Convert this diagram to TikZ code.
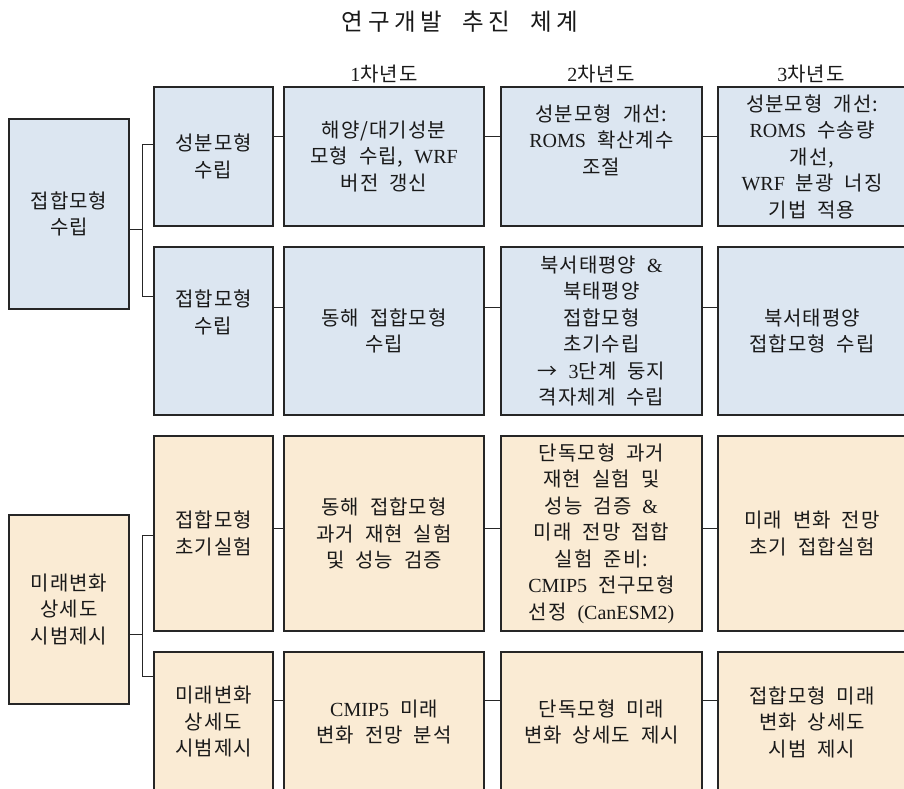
\documentclass[tikz,border=0pt]{standalone}
\usepackage{fontspec}
\newfontfamily\kr[LetterSpace=5,WordSpace=2]{Noto Sans CJK KR}
\newfontfamily\krtitle[LetterSpace=20,WordSpace=2]{Noto Sans CJK KR}
\newfontfamily\latinfont{Liberation Serif}
\newcommand\lt[1]{{\latinfont #1}}
\definecolor{boxblue}{HTML}{DCE6F1}
\definecolor{boxtan}{HTML}{FAEBD4}
\definecolor{edge}{HTML}{262626}
\tikzset{
  cell/.style={draw=edge, line width=1.2pt, inner sep=0pt, align=center,
    font=\kr\fontsize{20}{26.5}\selectfont, text=black!90},
  bluecell/.style={cell, fill=boxblue},
  tancell/.style={cell, fill=boxtan},
  link/.style={draw=edge, line width=1pt},
  head/.style={font=\kr\fontsize{20}{22}\selectfont, text=black!90}
}
\newcommand\cellnode[7]{% style, name, x1, y1, x2, y2, text
  \node[#1, minimum width={#5-#3}, minimum height={#6-#4}] (#2) at ({(#3+#5)/2},{(#4+#6)/2}) {#7};}
\begin{document}
\begin{tikzpicture}[x=1pt,y=-1pt]
\useasboundingbox (0,0) rectangle (904,788);
\fill[white] (0,0) rectangle (904,788);
\begin{scope}
\clip (0,0) rectangle (904,788);
% title and headers
\node[font=\krtitle\fontsize{23.5}{26}\selectfont, text=black!90] (title) at (460,22) {연구개발\hspace{20pt}추진 체계};
\node[head] (h1) at (384,74) {\lt{1}차년도};
\node[head] (h2) at (601,74) {\lt{2}차년도};
\node[head] (h3) at (811,74) {\lt{3}차년도};
% blue group
\cellnode{bluecell}{L1}{9}{119}{129}{309}{접합모형\\수립}
\cellnode{bluecell}{S1}{154}{87}{273}{226}{성분모형\\수립}
\cellnode{bluecell}{A1}{284}{87}{484}{226}{\fontsize{20}{24}\selectfont 해양/대기성분\\모형 수립, \lt{WRF}\\버전 갱신}
\cellnode{bluecell}{B1}{501}{87}{702}{226}{\fontsize{20}{24}\selectfont 성분모형 개선:\\\lt{ROMS} 확산계수\\조절\\[8pt]}
\cellnode{bluecell}{C1}{718}{87}{906}{226}{\fontsize{20}{24}\selectfont 성분모형 개선:\\\lt{ROMS} 수송량\\개선,\\\lt{WRF} 분광 너징\\기법 적용}
\cellnode{bluecell}{S2}{154}{247}{273}{415}{접합모형\\수립\\[12pt]}
\cellnode{bluecell}{A2}{284}{247}{484}{415}{동해 접합모형\\수립}
\cellnode{bluecell}{B2}{501}{247}{702}{415}{북서태평양 \lt{\&}\\북태평양\\접합모형\\초기수립\\→ \lt{3}단계 둥지\\격자체계 수립}
\cellnode{bluecell}{C2}{718}{247}{906}{415}{북서태평양\\접합모형 수립}
% tan group
\cellnode{tancell}{L2}{9}{515}{129}{704}{미래변화\\상세도\\시범제시}
\cellnode{tancell}{S3}{154}{436}{273}{631}{접합모형\\초기실험}
\cellnode{tancell}{A3}{284}{436}{484}{631}{동해 접합모형\\과거 재현 실험\\및 성능 검증}
\cellnode{tancell}{B3}{501}{436}{702}{631}{단독모형 과거\\재현 실험 및\\성능 검증 \lt{\&}\\미래 전망 접합\\실험 준비:\\\lt{CMIP5} 전구모형\\선정 \lt{(CanESM2)}}
\cellnode{tancell}{C3}{718}{436}{906}{631}{미래 변화 전망\\초기 접합실험}
\cellnode{tancell}{S4}{154}{652}{273}{792}{미래변화\\상세도\\시범제시}
\cellnode{tancell}{A4}{284}{652}{484}{792}{\lt{CMIP5} 미래\\변화 전망 분석}
\cellnode{tancell}{B4}{501}{652}{702}{792}{단독모형 미래\\변화 상세도 제시}
\cellnode{tancell}{C4}{718}{652}{906}{792}{접합모형 미래\\변화 상세도\\시범 제시}
% forks
\coordinate (f1) at (142,229);
\coordinate (f2) at (142,634);
\draw[link] (L1.east |- f1) -- (f1);
\draw[link] (S1.west |- 0,144) -- (142,144) -- (142,296) -- (S2.west |- 0,296);
\draw[link] (L2.east |- f2) -- (f2);
\draw[link] (S3.west |- 0,535) -- (142,535) -- (142,676) -- (S4.west |- 0,676);
% row links
\draw[link] (S1.east |- 0,136) -- (A1.west |- 0,136);
\draw[link] (A1.east |- 0,136) -- (B1.west |- 0,136);
\draw[link] (B1.east |- 0,136) -- (C1.west |- 0,136);
\draw[link] (S2.east |- 0,307) -- (A2.west |- 0,307);
\draw[link] (A2.east |- 0,307) -- (B2.west |- 0,307);
\draw[link] (B2.east |- 0,307) -- (C2.west |- 0,307);
\draw[link] (S3.east |- 0,528) -- (A3.west |- 0,528);
\draw[link] (A3.east |- 0,528) -- (B3.west |- 0,528);
\draw[link] (B3.east |- 0,528) -- (C3.west |- 0,528);
\draw[link] (S4.east |- 0,700) -- (A4.west |- 0,700);
\draw[link] (A4.east |- 0,700) -- (B4.west |- 0,700);
\draw[link] (B4.east |- 0,700) -- (C4.west |- 0,700);
\end{scope}
\end{tikzpicture}
\end{document}
